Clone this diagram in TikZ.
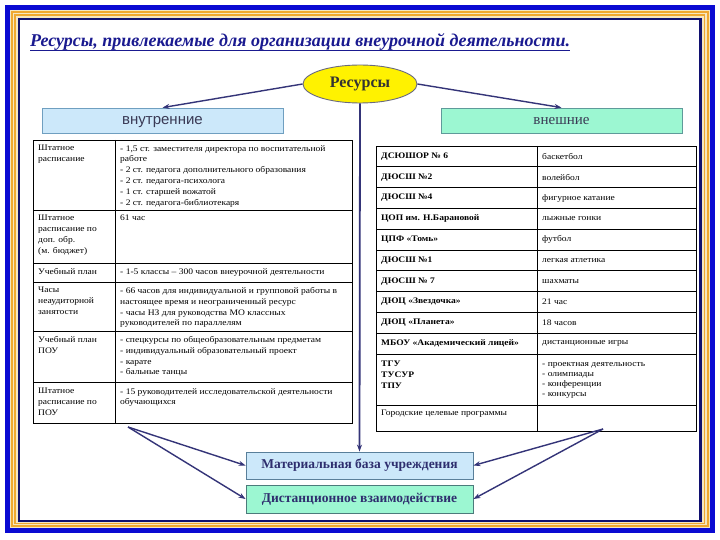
\documentclass[tikz,border=0pt]{standalone}
\usepackage{fontspec}
\setmainfont{Liberation Serif}
\newfontfamily\sansf{Liberation Sans}
\newfontfamily\cellfam[FakeStretch=1.12]{Liberation Serif}
\usetikzlibrary{shapes.geometric,arrows.meta}
\definecolor{frameblue}{HTML}{0A0AD2}
\definecolor{framecream}{HTML}{F6E6C0}
\definecolor{frameorange}{HTML}{F0A830}
\definecolor{framenavy}{HTML}{101070}
\definecolor{titleblue}{HTML}{1A1A90}
\definecolor{arrowc}{HTML}{343478}
\definecolor{innerfill}{HTML}{CCE8FA}
\definecolor{innerdraw}{HTML}{6F9FC0}
\definecolor{outerfill}{HTML}{9CF7D2}
\definecolor{outerdraw}{HTML}{5F9A9A}
\definecolor{ellgray}{HTML}{6A6A80}
\definecolor{boxtext}{HTML}{2E2E6E}
\definecolor{labeltext}{HTML}{3A3A55}
\newcommand{\cellf}{\cellfam\fontsize{8.5}{10.9}\selectfont}
\begin{document}
\begin{tikzpicture}[x=1pt,y=-1pt,
  tbl/.style={draw=black,line width=0.8pt},
  cell/.style={anchor=north west,inner sep=0pt,align=left,font=\cellf},
  rcell/.style={anchor=west,inner sep=0pt,align=left,font=\cellf},
  conn/.style={draw=arrowc,line width=1.4pt,-{Stealth[length=7pt,width=5pt]}},
  headbox/.style={draw,line width=0.8pt,minimum width=241pt,minimum height=25pt,inner sep=0pt,text height=1.6ex,text depth=0pt},
  basebox/.style={draw,line width=0.8pt,minimum width=227pt,minimum height=27pt,inner sep=0pt,text=boxtext,font=\fontsize{13.5}{15}\selectfont\bfseries}]
\useasboundingbox (0,0) rectangle (720,540);
% frame
\fill[white] (0,0) rectangle (720,540);
\fill[frameblue] (5,5) rectangle (715,533);
\fill[framecream] (10,10) rectangle (710,528);
\draw[frameorange,line width=1.8pt] (11.8,11.8) rectangle (708.2,526.2);
\draw[frameorange,line width=1.6pt] (15.2,15.2) rectangle (704.6,523.6);
\draw[framenavy,line width=2.6pt,fill=white] (19,19) rectangle (700.5,521);
% title
\node[anchor=base west,inner sep=0pt,text=titleblue,font=\fontsize{18}{20}\selectfont\bfseries\itshape] (title) at (30,47) {Ресурсы, привлекаемые для организации внеурочной деятельности.};
\draw[titleblue,line width=1pt] ([yshift=-3.5pt]title.base west) -- ([yshift=-3.5pt]title.base east);
% central ellipse
\node[ellipse,draw=ellgray,line width=0.9pt,fill=yellow,minimum width=114pt,minimum height=38pt,inner sep=0pt,text=black!80,font=\fontsize{16}{18}\selectfont\bfseries] (res) at (360,84) {Ресурсы};
% head boxes
\node[headbox,draw=innerdraw,fill=innerfill,text=labeltext,font=\sansf\fontsize{15}{17}\selectfont] (inner) at (162.5,120.5) {внутренние};
\node[headbox,draw=outerdraw,fill=outerfill,text=labeltext,font=\fontsize{15}{17}\selectfont] (outer) at (561.5,120.5) {внешние};
% bottom boxes
\node[basebox,draw=innerdraw!80!black,fill=innerfill] (mat) at (359.5,465.5) {Материальная база учреждения};
\node[basebox,draw=outerdraw!80!black,fill=outerfill,minimum height=28pt] (dist) at (359.5,499) {Дистанционное взаимодействие};
% left table
\draw[tbl] (33,140) rectangle (352,423);
\draw[tbl] (115,140) -- (115,423);
\foreach \yy in {210,263,282,331,382} {\draw[tbl] (33,\yy) -- (352,\yy);}
\node[cell] (l1a) at (38,145) {Штатное\\расписание};
\node[cell] (l1b) at (120,145) {- 1,5 ст. заместителя директора по воспитательной\\работе\\- 2 ст. педагога дополнительного образования\\- 2 ст. педагога-психолога\\- 1 ст. старшей вожатой\\- 2 ст. педагога-библиотекаря};
\node[cell] (l2a) at (38,215) {Штатное\\расписание по\\доп. обр.\\(м. бюджет)};
\node[cell] (l2b) at (120,215) {61 час};
\node[cell] (l3a) at (38,268) {Учебный план};
\node[cell] (l3b) at (120,268) {- 1-5 классы – 300 часов внеурочной деятельности};
\node[cell] (l4a) at (38,287) {Часы\\неаудиторной\\занятости};
\node[cell] (l4b) at (120,287) {- 66 часов для индивидуальной и групповой работы в\\настоящее время и неограниченный ресурс\\- часы НЗ для руководства МО классных\\руководителей по параллелям};
\node[cell] (l5a) at (38,336) {Учебный план\\ПОУ};
\node[cell] (l5b) at (120,336) {- спецкурсы по общеобразовательным предметам\\- индивидуальный образовательный проект\\- карате\\- бальные танцы};
\node[cell] (l6a) at (38,388) {Штатное\\расписание по\\ПОУ};
\node[cell] (l6b) at (120,388) {- 15 руководителей исследовательской деятельности\\обучающихся};
% right table
\draw[tbl] (376,146) rectangle (696,431);
\draw[tbl] (537,146) -- (537,431);
\foreach \i in {1,...,10} {\draw[tbl] (376,146+\i*20.8) -- (696,146+\i*20.8);}
\draw[tbl] (376,405) -- (696,405);
\foreach \n/\a/\b [count=\i from 0] in {
  r1/{ДСЮШОР № 6}/баскетбол,
  r2/{ДЮСШ №2}/волейбол,
  r3/{ДЮСШ №4}/фигурное катание,
  r4/{ЦОП им. Н.Барановой}/лыжные гонки,
  r5/{ЦПФ «Томь»}/футбол,
  r6/{ДЮСШ №1}/легкая атлетика,
  r7/{ДЮСШ № 7}/шахматы,
  r8/{ДЮЦ «Звездочка»}/21 час,
  r9/{ДЮЦ «Планета»}/18 часов,
  r10/{МБОУ «Академический лицей»}/дистанционные игры} {
  \node[rcell,font=\cellf\bfseries] (\n a) at (381,156.4+\i*20.8) {\a};
  \node[rcell] (\n b) at (542,156.4+\i*20.8) {\b};
}
\node[cell,font=\cellfam\fontsize{8.5}{11}\selectfont\bfseries] (r11a) at (381,361) {ТГУ\\ТУСУР\\ТПУ};
\node[cell,font=\cellfam\fontsize{8.5}{10.2}\selectfont] (r11b) at (542,362) {- проектная деятельность\\- олимпиады\\- конференции\\- конкурсы};
\node[cell] (r12a) at (381,410) {Городские целевые программы};
% connectors
\coordinate (lsrc) at (128,427);
\coordinate (rsrc) at (603,429);
\draw[conn] (res.west) -- (inner.north);
\draw[conn] (res.east) -- (outer.north);
\draw[conn,line width=1.8pt] (res.south) -- (mat.north);
\draw[conn] (lsrc) -- (mat.west);
\draw[conn] (lsrc) -- (dist.west);
\draw[conn] (rsrc) -- (mat.east);
\draw[conn] (rsrc) -- (dist.east);
\end{tikzpicture}
\end{document}
